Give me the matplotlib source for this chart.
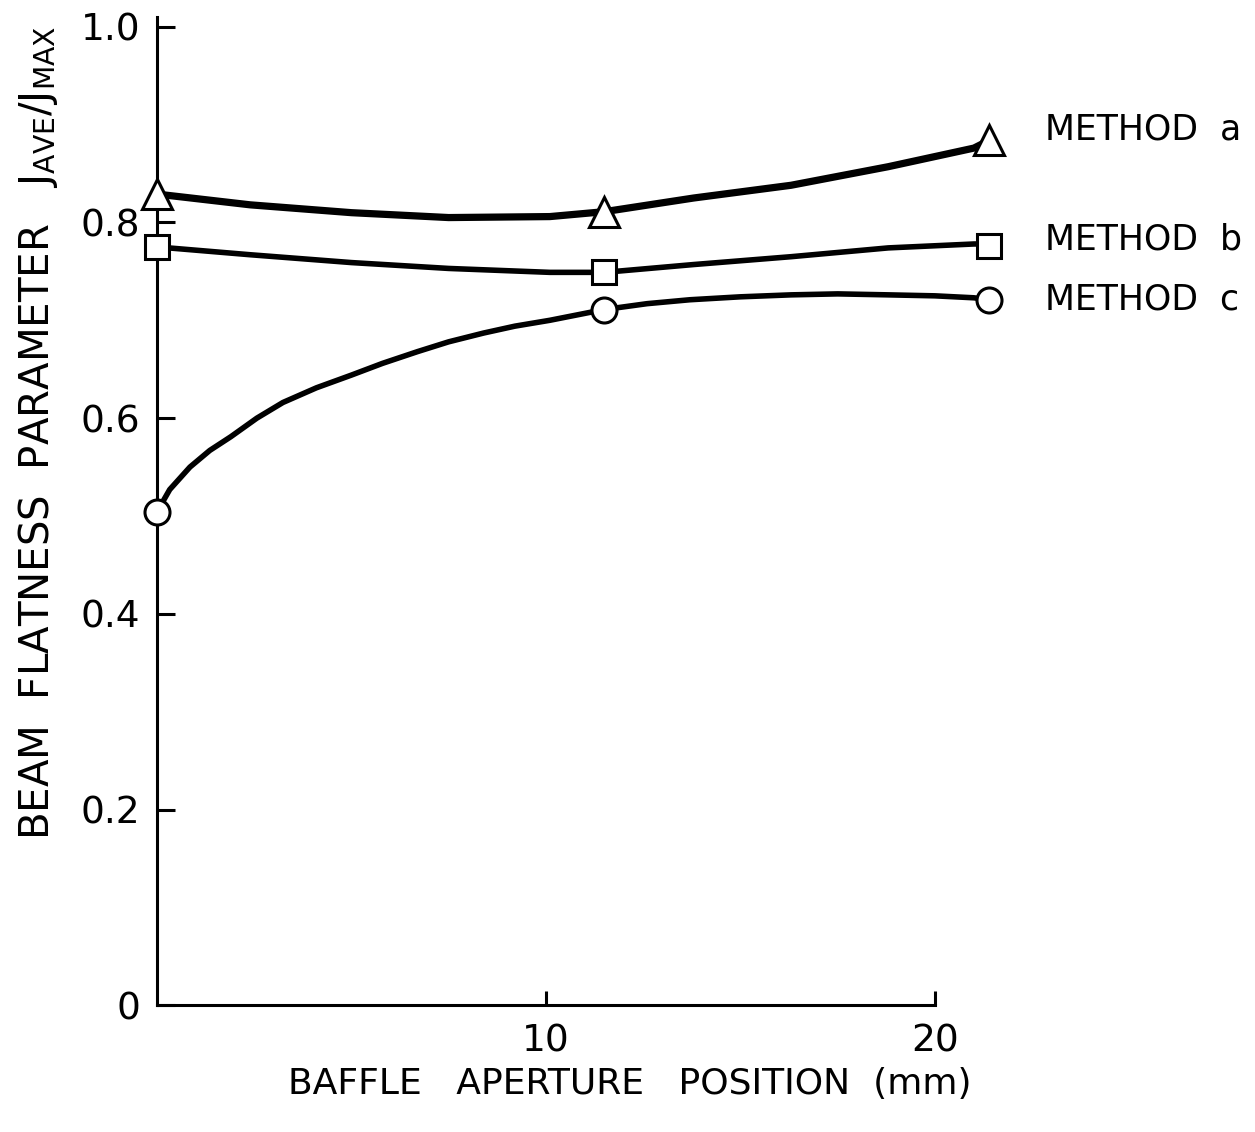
import matplotlib
matplotlib.use("Agg")
import matplotlib.pyplot as plt

# data points (baffle position in mm, J_ave/J_max)
x_pos = [0, 11.5, 21.4]
a_vals = [0.829, 0.811, 0.884]
b_vals = [0.775, 0.749, 0.776]
c_vals = [0.504, 0.711, 0.721]

# hand drawn curves
a_curve_x = [0, 2.4, 5.0, 7.5, 10.1, 11.5, 13.8, 16.3, 18.8, 21.0, 21.4]
a_curve_y = [0.829, 0.818, 0.810, 0.805, 0.806, 0.811, 0.825, 0.838, 0.857, 0.876, 0.884]
b_curve_x = [0, 2.4, 5.0, 7.5, 10.1, 11.5, 13.8, 16.3, 18.8, 21.0, 21.4]
b_curve_y = [0.775, 0.767, 0.759, 0.753, 0.749, 0.749, 0.757, 0.765, 0.774, 0.778, 0.778]
c_curve_x = [0, 0.33, 0.85, 1.36, 1.9, 2.57, 3.24, 4.1, 5.0, 5.8, 6.7, 7.5, 8.4,
             9.2, 10.1, 11.5, 12.6, 13.7, 15.0, 16.3, 17.5, 18.8, 20.0, 21.0, 21.4]
c_curve_y = [0.504, 0.527, 0.550, 0.567, 0.581, 0.600, 0.616, 0.631, 0.644, 0.656,
             0.668, 0.678, 0.687, 0.694, 0.700, 0.711, 0.717, 0.721, 0.724, 0.726,
             0.727, 0.726, 0.725, 0.723, 0.721]

y_ticks = [0, 0.2, 0.4, 0.6, 0.8, 1.0]
y_ticklabels = ["0", "0.2", "0.4", "0.6", "0.8", "1.0"]
x_ticks = [10, 20]
x_ticklabels = ["10", "20"]
method_names = ["METHOD  a", "METHOD  b", "METHOD  c"]

fig = plt.figure(figsize=(12.55, 11.32), dpi=100)
ax = fig.add_axes([0.125, 0.112, 0.62, 0.873])
ax.set_xlim(0, 20)
ax.set_ylim(0, 1.01)

lw_spine = 2.2
for s in ["top", "right"]:
    ax.spines[s].set_visible(False)
for s in ["left", "bottom"]:
    ax.spines[s].set_linewidth(lw_spine)

ax.plot(a_curve_x, a_curve_y, color="k", lw=5.2, clip_on=False,
        solid_capstyle="round", solid_joinstyle="round")
ax.plot(b_curve_x, b_curve_y, color="k", lw=4.0, clip_on=False,
        solid_capstyle="round", solid_joinstyle="round")
ax.plot(c_curve_x, c_curve_y, color="k", lw=4.0, clip_on=False,
        solid_capstyle="round", solid_joinstyle="round")

mk = dict(ls="none", mfc="white", mec="k", mew=2.2, clip_on=False, zorder=5)
ax.plot(x_pos, a_vals, marker="^", ms=21, **mk)
ax.plot(x_pos, b_vals, marker="s", ms=17, **mk)
ax.plot(x_pos, c_vals, marker="o", ms=18, **mk)

ax.set_yticks(y_ticks)
ax.set_yticklabels(y_ticklabels)
ax.set_xticks(x_ticks)
ax.set_xticklabels(x_ticklabels)
ax.tick_params(axis="y", direction="in", length=13, width=2.2, pad=12, labelsize=27)
ax.tick_params(axis="x", direction="in", length=10, width=2.2, pad=13, labelsize=27)

fig.text(0.502, 0.042, "BAFFLE   APERTURE   POSITION  (mm)", ha="center", va="center", fontsize=26)
fig.text(0.030, 0.618, r"BEAM  FLATNESS  PARAMETER   $\mathregular{J_{AVE}/J_{MAX}}$",
         ha="center", va="center", rotation=90, fontsize=29)

method_y = [1 - 130 / 1132, 1 - 240 / 1132, 1 - 300 / 1132]
for name, yy in zip(method_names, method_y):
    fig.text(1045 / 1255, yy, name, ha="left", va="center", fontsize=25)

fig.savefig("out.png", dpi=100)
